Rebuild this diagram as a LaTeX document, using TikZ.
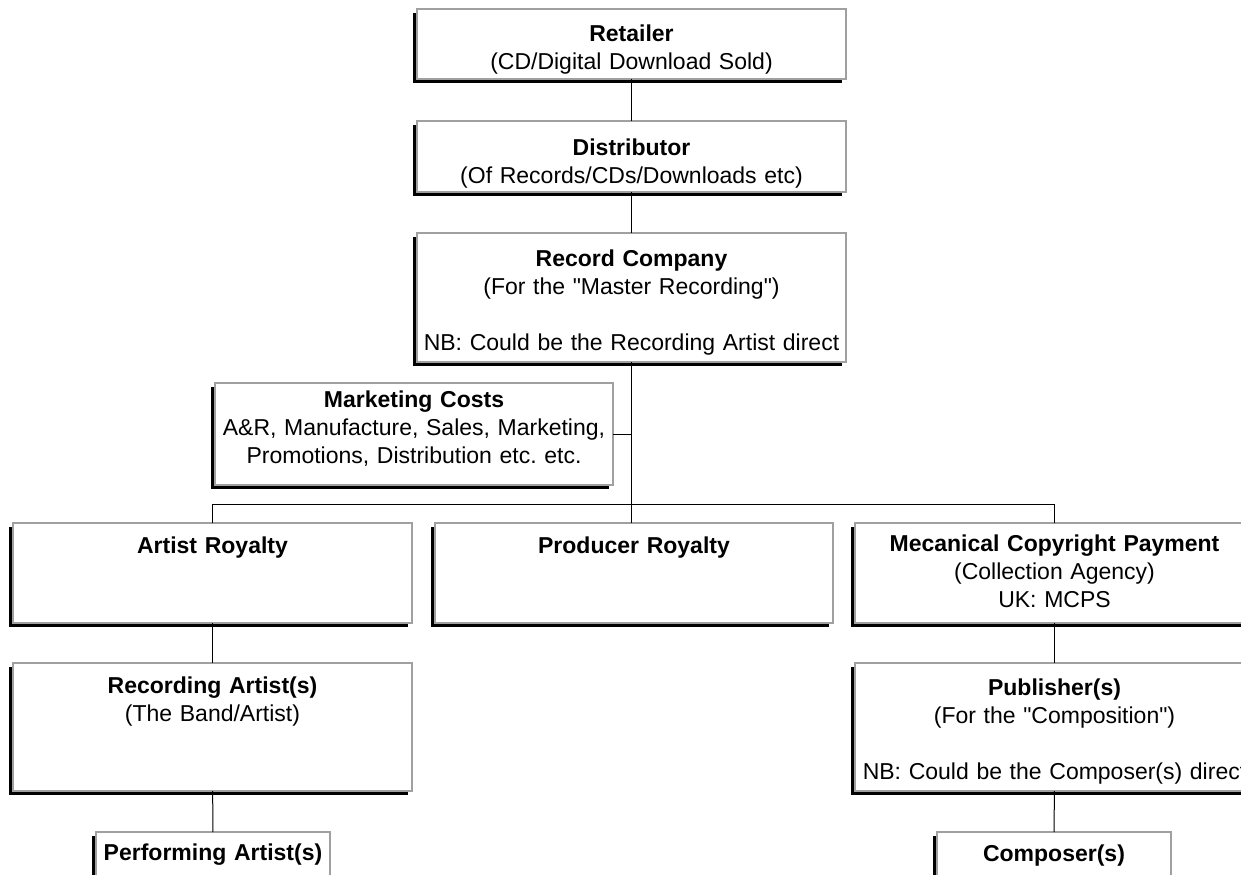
\documentclass[tikz,border=0pt]{standalone}
\usepackage{fontspec}
\setmainfont{Liberation Sans}
\usepackage{tikz}
\usetikzlibrary{shadows}
\definecolor{boxgray}{RGB}{160,160,160}
\frenchspacing

\begin{document}
\begin{tikzpicture}[x=0.5pt, y=-0.5pt, font=\fontsize{11.5}{14}\selectfont,
		orgbox/.style={draw=boxgray, line width=0.6pt, fill=white, anchor=north west,
			inner xsep=0pt, inner ysep=0pt, outer sep=0pt, align=center,
			drop shadow={shadow xshift=-2pt, shadow yshift=-2pt, fill=black, opacity=1}},
		link/.style={draw=black, line width=0.5pt}]
				% Bildbereich
				\useasboundingbox (0,0) rectangle (1241,874);
				\clip (0,0) rectangle (1241,874);
				% Kette oben
				\node[orgbox, text width=214.5pt, text height=16pt, text depth=19pt] (ret) at (417,9)
					{\textbf{Retailer}\\(CD/Digital Download Sold)};
				\node[orgbox, text width=214.5pt, text height=17pt, text depth=18.5pt] (dist) at (417,121)
					{\textbf{Distributor}\\(Of Records/CDs/Downloads etc)};
				\node[orgbox, text width=214.5pt, text height=16.5pt, text depth=48pt] (rec) at (417,233)
					{\textbf{Record Company}\\(For the \textquotedbl Master Recording\textquotedbl)\\[\baselineskip]NB: Could be the Recording Artist direct};
				\node[orgbox, text width=199pt, text height=12pt, text depth=39pt] (mkt) at (215,383)
					{\textbf{Marketing Costs}\\A\&R, Manufacture, Sales, Marketing,\\Promotions, Distribution etc. etc.};
				% Tantiemen
				\node[orgbox, text width=199.5pt, text height=15pt, text depth=35pt] (art) at (13,523)
					{\textbf{Artist Royalty}};
				\node[orgbox, text width=199pt, text height=15pt, text depth=35pt] (prod) at (435,523)
					{\textbf{Producer Royalty}};
				\node[orgbox, text width=199.5pt, text height=14pt, text depth=36pt] (mech) at (855,523)
					{\textbf{Mecanical Copyright Payment}\\(Collection Agency)\\UK: MCPS};
				% Kuenstler und Verlag
				\node[orgbox, text width=199.5pt, text height=15pt, text depth=49pt] (reca) at (13,663)
					{\textbf{Recording Artist(s)}\\(The Band/Artist)};
				\node[orgbox, text width=199.5pt, text height=16pt, text depth=48pt] (pub) at (855,663)
					{\textbf{Publisher(s)}\\(For the \textquotedbl Composition\textquotedbl)\\[\baselineskip]NB: Could be the Composer(s) direct};
				\node[orgbox, text width=117pt, text height=14pt, text depth=36pt] (perf) at (96,832)
					{\textbf{Performing Artist(s)}};
				\node[orgbox, text width=117pt, text height=14.5pt, text depth=36pt] (comp) at (937,832)
					{\textbf{Composer(s)}};
				% Verbindungen
				\coordinate (bus) at (rec.south |- 0,504);
				\draw[link] (ret) -- (dist);
				\draw[link] (dist) -- (rec);
				\draw[link] (rec.south) -- (rec.south |- prod.north);
				\draw[link] (mkt.east) -- (mkt.east -| rec.south);
				\draw[link] (art.north) |- (bus) -| (mech.north);
				\draw[link] (art) -- (reca);
				\draw[link] (reca) -- (perf);
				\draw[link] (mech) -- (pub);
				\draw[link] (pub) -- (comp);
		\end{tikzpicture}
\end{document}
